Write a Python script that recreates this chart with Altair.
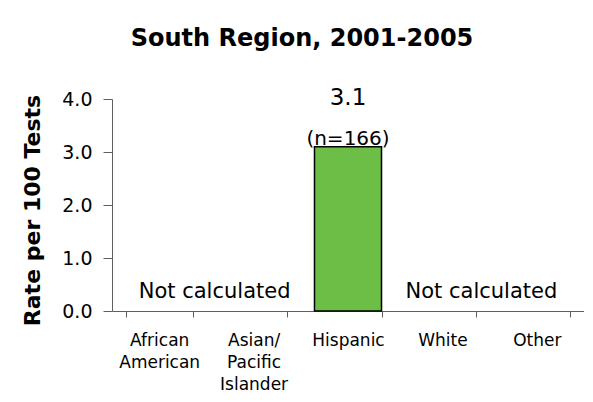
import altair as alt
import pandas as pd

# ---- data ----
categories = ["African\nAmerican", "Asian/\nPacific\nIslander", "Hispanic", "White", "Other"]
rates = [None, None, 3.1, None, None]
counts = [None, None, 166, None, None]
note_left_category = ["Asian/\nPacific\nIslander"]
note_right_category = ["White"]
note_text = "Not calculated"
y_ticks = [0, 1, 2, 3, 4]
chart_title = "South Region, 2001-2005"
y_title = "Rate per 100 Tests"

df = pd.DataFrame({"group": categories, "rate": rates, "n": counts})
notes_left = pd.DataFrame({"group": note_left_category, "label": [note_text]})
notes_right = pd.DataFrame({"group": note_right_category, "label": [note_text]})

FONT = "DejaVu Sans"
AXIS_GRAY = "#606060"

x_enc = alt.X(
    "group:N",
    sort=categories,
    scale=alt.Scale(domain=categories, paddingInner=0.29, paddingOuter=0.145),
    axis=alt.Axis(
        title=None,
        labelExpr="split(datum.label, '\\n')",
        labelAngle=0,
        labelFont=FONT,
        labelFontSize=17,
        labelColor="black",
        labelLineHeight=22,
        labelBaseline="alphabetic",
        labelPadding=28,
        tickBand="extent",
        tickSize=6,
        tickColor=AXIS_GRAY,
        domainColor=AXIS_GRAY,
        labelOverlap=False,
    ),
)

y_scale = alt.Scale(domain=[0, 4], nice=False, zero=True)

bars = alt.Chart(df).transform_filter("isValid(datum.rate)").mark_bar(
    color="#6cbe46", stroke="black", strokeWidth=1.5
).encode(
    x=x_enc,
    y=alt.Y(
        "rate:Q",
        scale=y_scale,
        axis=alt.Axis(
            title=y_title,
            values=y_ticks,
            format=".1f",
            grid=False,
            labelFont=FONT,
            labelFontSize=19,
            labelColor="black",
            labelPadding=11,
            tickSize=9,
            tickColor=AXIS_GRAY,
            domainColor=AXIS_GRAY,
            titleFont=FONT,
            titleFontSize=22,
            titleFontWeight="bold",
            titleColor="black",
            titleAngle=270,
            titleAlign="center",
            titleBaseline="alphabetic",
            titleX=-73,
            titleY=111,
        ),
    ),
)

value_text = alt.Chart(df).transform_filter("isValid(datum.rate)").mark_text(
    font=FONT, fontSize=23, baseline="alphabetic", dy=-42, color="black"
).encode(
    x=alt.X("group:N", sort=categories),
    y=alt.Y("rate:Q"),
    text=alt.Text("rate:Q", format=".1f"),
)

n_text = alt.Chart(df).transform_filter("isValid(datum.n)").transform_calculate(
    nlabel="'(n=' + datum.n + ')'"
).mark_text(
    font=FONT, fontSize=20, baseline="alphabetic", dy=-2, color="black"
).encode(
    x=alt.X("group:N", sort=categories),
    y=alt.Y("rate:Q"),
    text="nlabel:N",
)

left_note = alt.Chart(notes_left).mark_text(
    font=FONT, fontSize=21, baseline="alphabetic", dx=-39, dy=-13, color="black"
).encode(
    x=alt.X("group:N", sort=categories),
    y=alt.datum(0),
    text="label:N",
)

right_note = alt.Chart(notes_right).mark_text(
    font=FONT, fontSize=21, baseline="alphabetic", dx=39, dy=-13, color="black"
).encode(
    x=alt.X("group:N", sort=categories),
    y=alt.datum(0),
    text="label:N",
)

chart = alt.layer(bars, value_text, n_text, left_note, right_note).properties(
    width=472,
    height=212,
    background="white",
    title=alt.TitleParams(
        text=chart_title,
        font=FONT,
        fontSize=24,
        fontWeight="bold",
        color="black",
        anchor="middle",
        dx=-46,
        offset=36,
    ),
    autosize=alt.AutoSizeParams(type="none"),
    padding={"left": 104, "top": 91, "right": 0, "bottom": 83},
).configure_view(stroke=None)

chart.save("out.html", embed_options={"renderer": "svg", "actions": False})
